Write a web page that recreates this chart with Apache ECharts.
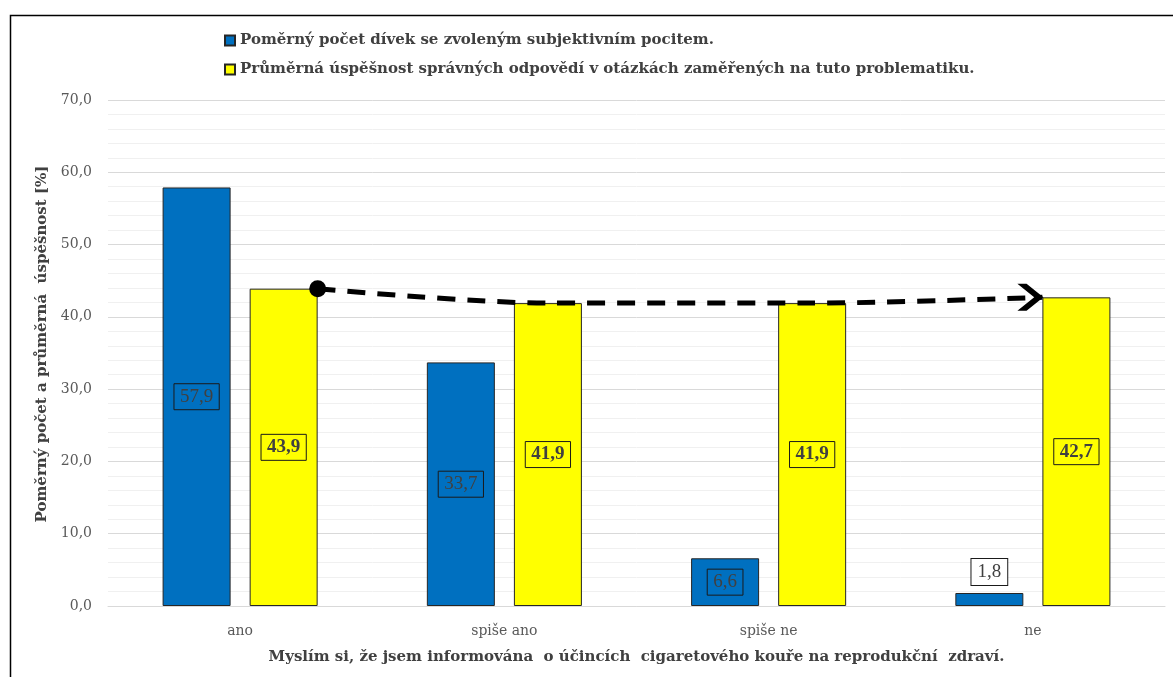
<!DOCTYPE html>
<html lang="cs">
<head>
    <meta charset="utf-8">
    <title>Graf</title>
    <script src="https://cdn.jsdelivr.net/npm/echarts@6/dist/echarts.min.js"></script>
    <style type="text/css">
        html, body {
            margin: 0;
            padding: 0;
            background: #ffffff;
        }

        #main {
            width: 1173px;
            height: 677px;
        }
    </style>
</head>
<body>
<div id="main"></div>
<script type="text/javascript">
    // data
    let categories = ["ano", "spiše ano", "spiše ne", "ne"];
    let podilDivek = [57.9, 33.7, 6.6, 1.8];
    let uspesnost = [43.9, 41.9, 41.9, 42.7];
    let legendNames = [
        "Poměrný počet dívek se zvoleným subjektivním pocitem.",
        "Průměrná úspěšnost správných odpovědí v otázkách zaměřených na tuto problematiku."
    ];
    let yTicks = [0, 10, 20, 30, 40, 50, 60, 70];

    let serif = "Liberation Serif";
    let wide = "DejaVu Serif";
    let fmt = function (v) {
        return v.toFixed(1).replace(".", ",");
    };

    // poloha šipky: pravý roh prvního žlutého sloupce -> levý roh posledního
    let barW = 68, bandW = 264, gapW = 19;
    let yellowOff = (gapW / 2 + barW / 2) / bandW;
    let half = barW / 2 / bandW;
    let arrowData = uspesnost.map(function (v, i) {
        let x = i + 0.5 + yellowOff;
        if (i === 0) x += half;
        if (i === uspesnost.length - 1) x -= half;
        return [x, v];
    });

    let blueData = podilDivek.map(function (v, i) {
        let item = {value: v};
        if (i === podilDivek.length - 1) {
            item.label = {position: "top", distance: 8, backgroundColor: "#ffffff"};
        }
        return item;
    });

    let labelStyle = {
        show: true,
        position: "inside",
        fontFamily: serif,
        fontSize: 19,
        color: "#404040",
        borderColor: "#1a1a1a",
        borderWidth: 1,
        padding: [4, 6, 3, 6],
        formatter: function (p) {
            return fmt(p.value);
        }
    };

    let myChart = echarts.init(document.getElementById("main"));
    myChart.setOption({
        animation: false,
        textStyle: {fontFamily: serif},
        graphic: [{
            type: "rect",
            left: 8,
            top: 13,
            shape: {width: 1300, height: 800},
            style: {fill: "none", stroke: "#000000", lineWidth: 1.5},
            silent: true
        }],
        legend: {
            orient: "vertical",
            left: 219,
            top: 28,
            itemWidth: 10,
            itemHeight: 10,
            itemGap: 14,
            icon: "rect",
            data: legendNames,
            textStyle: {fontFamily: wide, fontWeight: "bold", fontSize: 15, color: "#404040"}
        },
        grid: {left: 108, right: 8, top: 100, bottom: 71},
        xAxis: [{
            type: "category",
            data: categories,
            axisTick: {show: false},
            axisLine: {lineStyle: {color: "#d9d9d9"}},
            axisLabel: {fontFamily: wide, fontSize: 14, color: "#595959", margin: 18},
            name: "Myslím si, že jsem informována  o účincích  cigaretového kouře na reprodukční  zdraví.",
            nameLocation: "middle",
            nameGap: 44,
            nameTextStyle: {fontFamily: wide, fontWeight: "bold", fontSize: 15, color: "#404040"}
        }, {
            type: "value",
            min: 0,
            max: categories.length,
            show: false
        }],
        yAxis: {
            type: "value",
            min: yTicks[0],
            max: yTicks[yTicks.length - 1],
            interval: 10,
            axisLine: {show: false},
            axisTick: {show: false},
            axisLabel: {
                fontFamily: wide, fontSize: 14, color: "#595959", margin: 16,
                formatter: fmt
            },
            splitLine: {lineStyle: {color: "#d9d9d9", width: 1}},
            minorTick: {show: false, splitNumber: 5},
            minorSplitLine: {show: true, lineStyle: {color: "#f0f0f0", width: 1}},
            name: "Poměrný počet a průměrná  úspěšnost [%]",
            nameLocation: "middle",
            nameGap: 58,
            nameRotate: 90,
            nameTextStyle: {
                fontFamily: wide, fontWeight: "bold", fontSize: 15, color: "#404040",
                padding: [0, 0, 0, 18]
            }
        },
        series: [{
            name: legendNames[0],
            type: "bar",
            data: blueData,
            barWidth: barW,
            barGap: "28%",
            itemStyle: {color: "#0070c0", borderColor: "#262626", borderWidth: 1},
            label: labelStyle
        }, {
            name: legendNames[1],
            type: "bar",
            data: uspesnost,
            barWidth: barW,
            itemStyle: {color: "#ffff00", borderColor: "#262626", borderWidth: 1},
            label: Object.assign({}, labelStyle, {fontWeight: "bold"})
        }, {
            type: "line",
            xAxisIndex: 1,
            data: arrowData.map(function (d, i) {
                let item = {value: d, symbol: "none"};
                if (i === 0) {
                    item.symbol = "circle";
                    item.symbolSize = 17;
                }
                if (i === arrowData.length - 1) {
                    item.symbol = "path://M0,0 L6,0 L17,12 L6,24 L0,24 L11,12 Z";
                    item.symbolSize = [26, 27];
                    item.symbolOffset = [-12, 0];
                }
                return item;
            }),
            smooth: 0.3,
            showSymbol: true,
            lineStyle: {color: "#000000", width: 5, type: [18, 12]},
            itemStyle: {color: "#000000"},
            silent: true,
            z: 5
        }]
    });
</script>
</body>
</html>
